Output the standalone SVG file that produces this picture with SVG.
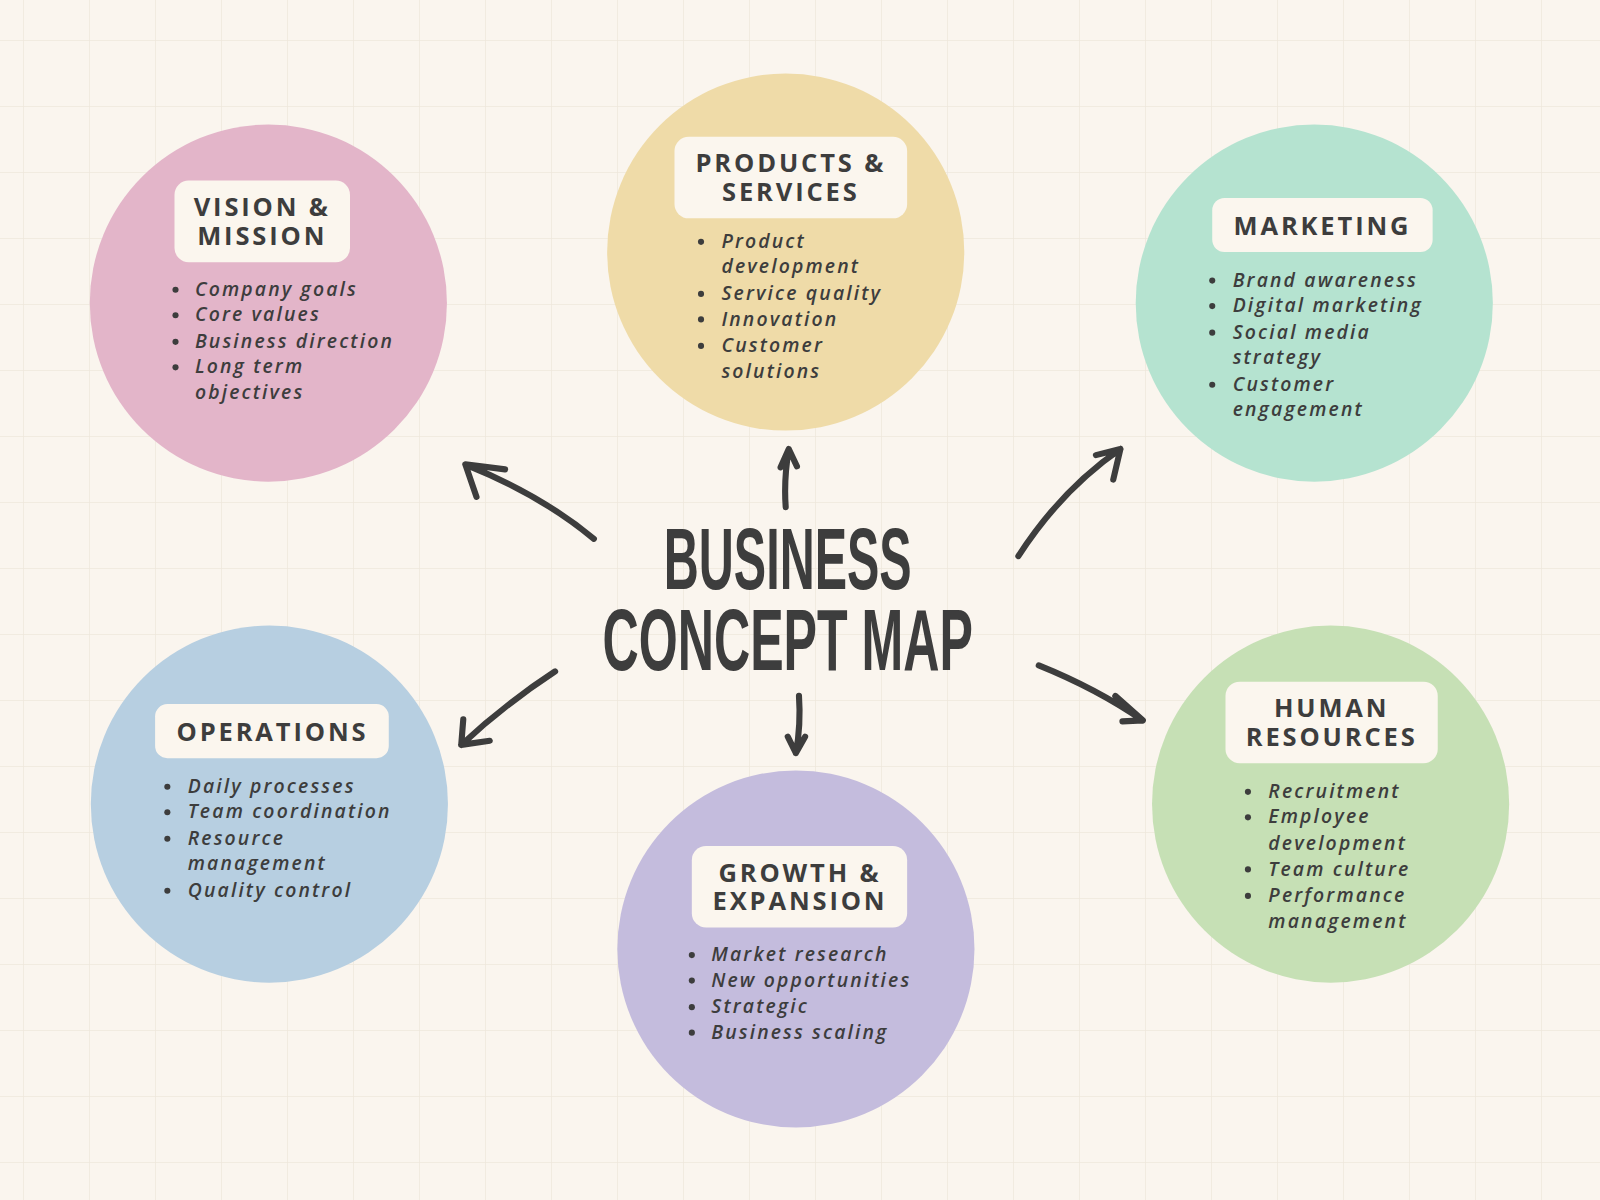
<svg xmlns="http://www.w3.org/2000/svg" width="1600" height="1200" viewBox="0 0 1600 1200">
<defs>
<pattern id="grid" width="66" height="66" patternUnits="userSpaceOnUse" x="23" y="40">
<path d="M0 0H66M0 0V66" fill="none" stroke="#eee7dc" stroke-width="1.5"/>
</pattern>
<style>
.box{fill:#fbf6ee}
.ttl{font-family:"Open Sans","DejaVu Sans",sans-serif;font-weight:bold;font-size:25px;letter-spacing:2.8px;fill:#3d3d3d;text-anchor:middle}
.it{font-family:"Open Sans","DejaVu Sans",sans-serif;font-style:italic;font-weight:600;font-size:19px;letter-spacing:2.1px;fill:#3d3d3d}
.dot{fill:#3d3d3d}
.arr{fill:none;stroke:#3d3d3d;stroke-width:6;stroke-linecap:round;stroke-linejoin:round}
.big{font-family:"Liberation Sans",sans-serif;font-weight:bold;font-size:86px;fill:#3d3d3d;text-anchor:middle}
</style>
</defs>
<rect width="1600" height="1200" fill="#faf5ee"/>
<rect width="1600" height="1200" fill="url(#grid)"/>
<g transform="scale(1.0204)">
<g id="vision">
<circle cx="263" cy="297" r="175" fill="#e3b5c9"/>
<rect class="box" x="171" y="177" width="172" height="80" rx="14"/>
<text class="ttl" x="257" y="212">VISION &amp;</text>
<text class="ttl" x="257" y="240">MISSION</text>
<circle class="dot" cx="172" cy="284" r="3"/><circle class="dot" cx="172" cy="309" r="3"/><circle class="dot" cx="172" cy="335" r="3"/><circle class="dot" cx="172" cy="360" r="3"/>
<text class="it" x="191" y="290">Company goals</text>
<text class="it" x="191" y="315">Core values</text>
<text class="it" x="191" y="341">Business direction</text>
<text class="it" x="191" y="366">Long term</text>
<text class="it" x="191" y="391">objectives</text>
</g>
<g id="products">
<circle cx="770" cy="247" r="175" fill="#efdba8"/>
<rect class="box" x="661" y="134" width="228" height="80" rx="14"/>
<text class="ttl" x="775" y="169">PRODUCTS &amp;</text>
<text class="ttl" x="775" y="197">SERVICES</text>
<circle class="dot" cx="687" cy="237" r="3"/><circle class="dot" cx="687" cy="288" r="3"/><circle class="dot" cx="687" cy="313" r="3"/><circle class="dot" cx="687" cy="339" r="3"/>
<text class="it" x="707" y="243">Product</text>
<text class="it" x="707" y="268">development</text>
<text class="it" x="707" y="294">Service quality</text>
<text class="it" x="707" y="319">Innovation</text>
<text class="it" x="707" y="345">Customer</text>
<text class="it" x="707" y="370">solutions</text>
</g>
<g id="marketing">
<circle cx="1288" cy="297" r="175" fill="#b5e3d0"/>
<rect class="box" x="1188" y="194" width="216" height="53" rx="12"/>
<text class="ttl" x="1296" y="230">MARKETING</text>
<circle class="dot" cx="1188" cy="275" r="3"/><circle class="dot" cx="1188" cy="300" r="3"/><circle class="dot" cx="1188" cy="326" r="3"/><circle class="dot" cx="1188" cy="377" r="3"/>
<text class="it" x="1208" y="281">Brand awareness</text>
<text class="it" x="1208" y="306">Digital marketing</text>
<text class="it" x="1208" y="332">Social media</text>
<text class="it" x="1208" y="357">strategy</text>
<text class="it" x="1208" y="383">Customer</text>
<text class="it" x="1208" y="408">engagement</text>
</g>
<g id="operations">
<circle cx="264" cy="788" r="175" fill="#b7cfe1"/>
<rect class="box" x="152" y="690" width="229" height="53" rx="12"/>
<text class="ttl" x="267" y="726">OPERATIONS</text>
<circle class="dot" cx="164" cy="771" r="3"/><circle class="dot" cx="164" cy="796" r="3"/><circle class="dot" cx="164" cy="822" r="3"/><circle class="dot" cx="164" cy="873" r="3"/>
<text class="it" x="184" y="777">Daily processes</text>
<text class="it" x="184" y="802">Team coordination</text>
<text class="it" x="184" y="828">Resource</text>
<text class="it" x="184" y="853">management</text>
<text class="it" x="184" y="879">Quality control</text>
</g>
<g id="growth">
<circle cx="780" cy="930" r="175" fill="#c4bcdd"/>
<rect class="box" x="678" y="829" width="211" height="80" rx="14"/>
<text class="ttl" x="784" y="864">GROWTH &amp;</text>
<text class="ttl" x="784" y="892">EXPANSION</text>
<circle class="dot" cx="678" cy="936" r="3"/><circle class="dot" cx="678" cy="961" r="3"/><circle class="dot" cx="678" cy="987" r="3"/><circle class="dot" cx="678" cy="1012" r="3"/>
<text class="it" x="697" y="942">Market research</text>
<text class="it" x="697" y="967">New opportunities</text>
<text class="it" x="697" y="993">Strategic</text>
<text class="it" x="697" y="1018">Business scaling</text>
</g>
<g id="hr">
<circle cx="1304" cy="788" r="175" fill="#c6e0b5"/>
<rect class="box" x="1201" y="668" width="208" height="80" rx="14"/>
<text class="ttl" x="1305" y="703">HUMAN</text>
<text class="ttl" x="1305" y="731">RESOURCES</text>
<circle class="dot" cx="1223" cy="776" r="3"/><circle class="dot" cx="1223" cy="801" r="3"/><circle class="dot" cx="1223" cy="852" r="3"/><circle class="dot" cx="1223" cy="878" r="3"/>
<text class="it" x="1243" y="782">Recruitment</text>
<text class="it" x="1243" y="807">Employee</text>
<text class="it" x="1243" y="833">development</text>
<text class="it" x="1243" y="858">Team culture</text>
<text class="it" x="1243" y="884">Performance</text>
<text class="it" x="1243" y="909">management</text>
</g>
<g id="title">
<text class="big" x="772" y="577" textLength="243" lengthAdjust="spacingAndGlyphs">BUSINESS</text>
<text class="big" x="772" y="657" textLength="363" lengthAdjust="spacingAndGlyphs">CONCEPT MAP</text>
</g>
<g id="connectors">
<path class="arr" d="M582 528 Q530 485 458 456 M467 487 L456 455 L495 460"/>
<path class="arr" d="M770 497 Q768 470 773 440 M765 458 L773 440 L781 457"/>
<path class="arr" d="M998 545 Q1040 480 1098 440 M1074 446 L1098 440 L1091 470"/>
<path class="arr" d="M544 658 Q495 690 452 730 M454 705 L452 730 L480 726"/>
<path class="arr" d="M783 682 Q785 710 780 738 M772 722 L780 738 L789 722"/>
<path class="arr" d="M1018 652 Q1075 675 1120 706 M1093 682 L1120 706 L1100 707"/>
</g>
</g>
</svg>
